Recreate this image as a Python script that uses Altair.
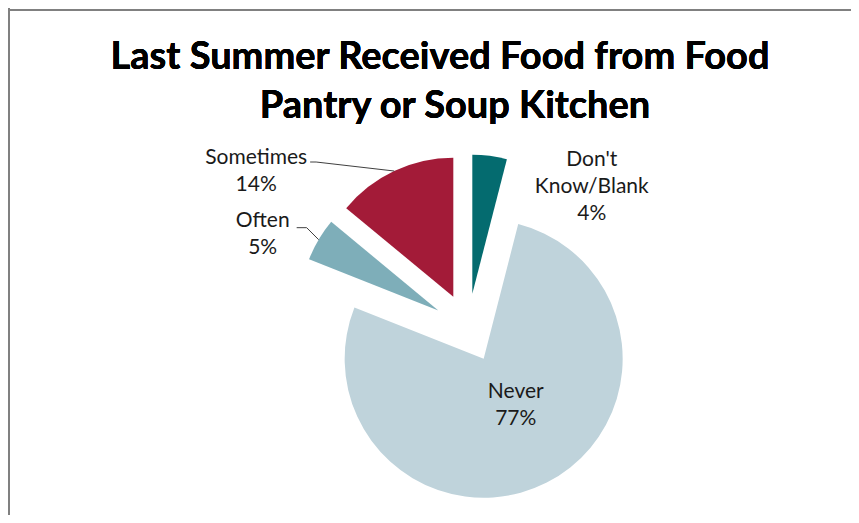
import altair as alt
import pandas as pd

# ---- data ----
categories = ["Don't Know/Blank", "Never", "Often", "Sometimes"]
label_names = ["Don't\nKnow/Blank", "Never", "Often", "Sometimes"]
values = [4, 77, 5, 14]
order = [0, 1, 2, 3]
colors = ["#046B6F", "#BFD3DB", "#7EAEB9", "#A31B38"]
title_lines = ["Last Summer Received Food from Food", "Pantry or Soup Kitchen"]

df = pd.DataFrame({"category": categories, "label": label_names,
                   "value": values, "order": order})

W, H = 843, 507
CX, CY = 460, 320     # pie centre (chart pixels)
R = 139               # pie radius
EXPLODE = 34.5        # slice explosion distance

base = alt.Chart(df).transform_window(
    cum="sum(value)", sort=[alt.SortField("order")], frame=[None, 0]
).transform_joinaggregate(
    total="sum(value)"
).transform_calculate(
    t1="2*PI*datum.cum/datum.total",
    t0="2*PI*(datum.cum-datum.value)/datum.total",
).transform_calculate(
    mid="(datum.t0+datum.t1)/2"
).transform_calculate(
    px=f"{CX}+{EXPLODE}*sin(datum.mid)",
    py=f"{CY}-{EXPLODE}*cos(datum.mid)",
    ox=f"{CX}+{EXPLODE + R}*sin(datum.mid)",
    oy=f"{CY}-{EXPLODE + R}*cos(datum.mid)",
    txt="datum.label + '\\n' + format(datum.value/datum.total, '.0%')",
)

arcs = base.mark_arc(outerRadius=R, strokeWidth=0).encode(
    x=alt.X("px:Q", scale=None, axis=None),
    y=alt.Y("py:Q", scale=None, axis=None),
    theta=alt.Theta("t0:Q", scale=None),
    theta2="t1:Q",
    color=alt.Color("category:N", scale=alt.Scale(domain=categories, range=colors), legend=None),
)

def label_layer(cat, dx, dy):
    return base.transform_filter(alt.datum.category == cat).mark_text(
        font="Lato", fontSize=21, lineHeight=27, lineBreak="\n",
        align="center", baseline="middle", color="#1a1a1a", dx=dx, dy=dy,
    ).encode(
        x=alt.X("ox:Q", scale=None, axis=None),
        y=alt.Y("oy:Q", scale=None, axis=None),
        text="txt:N",
    )

labels = [
    label_layer("Don't Know/Blank", 102, 4),
    label_layer("Never", -31, -90.5),
    label_layer("Often", -56, -18.5),
    label_layer("Sometimes", -138, -13.5),
]

def leader_seg(cat, a, b):
    return base.transform_filter(alt.datum.category == cat).transform_calculate(
        x1=f"datum.ox+({a[0]})", y1=f"datum.oy+({a[1]})",
        x2=f"datum.ox+({b[0]})", y2=f"datum.oy+({b[1]})",
    ).mark_rule(color="#404040", strokeWidth=1).encode(
        x=alt.X("x1:Q", scale=None, axis=None),
        y=alt.Y("y1:Q", scale=None, axis=None),
        x2="x2:Q",
        y2="y2:Q",
    )

leaders = [
    leader_seg("Sometimes", (0, 0), (-78, -9)),
    leader_seg("Sometimes", (-78, -9), (-84, -9)),
    leader_seg("Often", (0, 0), (-12, -12)),
    leader_seg("Often", (-12, -12), (-22, -12)),
]

title1 = alt.Chart(df).mark_text(
    font="Lato", fontSize=38, fontWeight="bold", align="center",
    baseline="alphabetic", color="#000000",
).encode(x=alt.value(432), y=alt.value(60.5), text=alt.value(title_lines[0]))
title2 = alt.Chart(df).mark_text(
    font="Lato", fontSize=38, fontWeight="bold", align="center",
    baseline="alphabetic", color="#000000",
).encode(x=alt.value(447), y=alt.value(110), text=alt.value(title_lines[1]))

border_top = alt.Chart(df).mark_rule(color="#808080", strokeWidth=2).encode(
    x=alt.value(0), x2=alt.value(W), y=alt.value(2))
border_left = alt.Chart(df).mark_rule(color="#808080", strokeWidth=2).encode(
    x=alt.value(1), y=alt.value(0), y2=alt.value(H))

chart = alt.layer(
    arcs, *leaders, *labels, title1, title2, border_top, border_left
).properties(
    width=W, height=H, padding=0, autosize=alt.AutoSizeParams(type="none")
).configure_view(stroke=None)

chart.save("out.html", embed_options={"renderer": "svg", "actions": False})
